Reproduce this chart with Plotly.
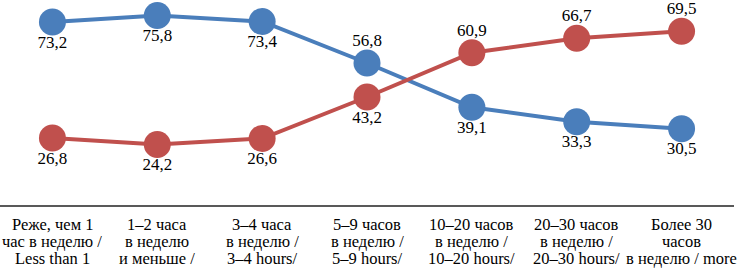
import plotly.graph_objects as go

categories = [0, 1, 2, 3, 4, 5, 6]
tick_lines = [
    ["Реже, чем 1", "час в неделю /", "Less than 1"],
    ["1–2 часа", "в неделю", "и меньше /"],
    ["3–4 часа", "в неделю /", "3–4 hours/"],
    ["5–9 часов", "в неделю /", "5–9 hours/"],
    ["10–20 часов", "в неделю /", "10–20 hours/"],
    ["20–30 часов", "в неделю /", "20–30 hours/"],
    ["Более 30", "часов", "в неделю / more"],
]
blue_values = [73.2, 75.8, 73.4, 56.8, 39.1, 33.3, 30.5]
red_values = [26.8, 24.2, 26.6, 43.2, 60.9, 66.7, 69.5]
blue_label_pos = ["bottom center"] * 3 + ["top center"] + ["bottom center"] * 3
red_label_pos = ["bottom center"] * 4 + ["top center"] * 3

BLUE = "#4a7ebb"
RED = "#c0504d"
FONT = "Liberation Serif"

fig = go.Figure()
for vals, col in [(blue_values, BLUE), (red_values, RED)]:
    fig.add_trace(go.Scatter(
        x=categories, y=vals, mode="lines+markers",
        line=dict(color=col, width=4),
        marker=dict(color=col, size=27, line=dict(width=0)),
        cliponaxis=False, showlegend=False, hoverinfo="skip",
    ))
# value labels (invisible smaller markers only set the label offset)
for vals, pos in [(blue_values, blue_label_pos), (red_values, red_label_pos)]:
    fig.add_trace(go.Scatter(
        x=categories, y=vals, mode="markers+text",
        marker=dict(size=19, opacity=0),
        texttemplate="%{y:.1f}", textposition=pos,
        textfont=dict(family=FONT, size=17, color="black"),
        cliponaxis=False, showlegend=False, hoverinfo="skip",
    ))

annotations = []
for i, lines in enumerate(tick_lines):
    for k, t in enumerate(lines):
        annotations.append(dict(
            x=categories[i], xref="x", y=0, yref="paper", text=t,
            showarrow=False, yanchor="middle", xanchor="center",
            yshift=-19.5 - 17 * k, borderpad=0,
            font=dict(family=FONT, size=16.5, color="black"),
        ))

fig.update_layout(
    width=745, height=271,
    margin=dict(l=0, r=11, t=5, b=66),
    paper_bgcolor="white", plot_bgcolor="white",
    font=dict(family=FONT, color="black"),
    separators=", ",
    annotations=annotations,
    xaxis=dict(range=[-0.5, 6.5], showticklabels=False, showgrid=False, zeroline=False,
               showline=True, linecolor="#595959", linewidth=2, ticks=""),
    yaxis=dict(range=[0, 80], visible=False, showgrid=False, zeroline=False),
)
fig.write_html("out.html", post_script="document.body.style.margin='0';",
               config={"displayModeBar": False})
